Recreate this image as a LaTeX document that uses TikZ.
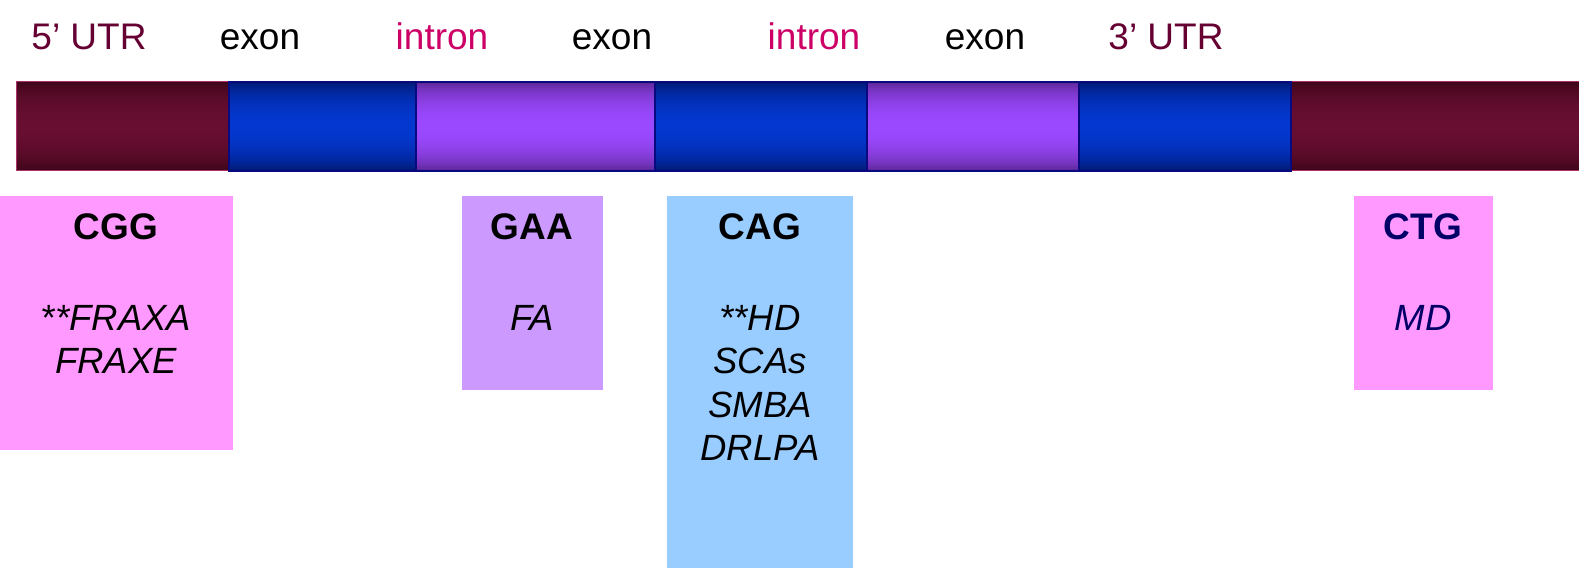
\documentclass[tikz,border=0pt]{standalone}
\usepackage{fontspec}
\setmainfont{Liberation Sans}
\definecolor{utrtxt}{HTML}{660033}
\definecolor{introntxt}{HTML}{CC0066}
\definecolor{utrmid}{HTML}{680E31}
\definecolor{utrdark}{HTML}{380414}
\definecolor{utredge}{HTML}{B0306A}
\definecolor{exmid}{HTML}{0337CF}
\definecolor{exdark}{HTML}{001566}
\definecolor{exedge}{HTML}{0A0A80}
\definecolor{inmid}{HTML}{9B49FF}
\definecolor{indark}{HTML}{552288}
\definecolor{boxpink}{HTML}{FF99FF}
\definecolor{boxlav}{HTML}{CC99FF}
\definecolor{boxblue}{HTML}{99CCFF}
\definecolor{navy}{HTML}{000066}
\tikzset{
  toplabel/.style={font=\fontsize{37}{40}\selectfont, inner sep=0pt, anchor=base},
  titletxt/.style={font=\fontsize{37}{40}\selectfont\bfseries, inner sep=0pt, anchor=base},
  bodytxt/.style={font=\fontsize{36.5}{43.5}\selectfont\itshape, inner sep=0pt, anchor=north, align=center},
}
% \gradseg{x1}{x2}{midcolor}{darkcolor}{edgecolor}{edgewidth}
\newcommand{\gradseg}[6]{%
  \foreach \i in {0,...,44}{%
    \pgfmathsetmacro{\tt}{(\i+0.5)/45}%
    \pgfmathsetmacro{\ff}{100*(sin(180*\tt))^0.6}%
    \fill[#3!\ff!#4] (#1,{397+89*\i/45}) rectangle (#2,{397+89*(\i+1)/45+0.3});%
  }%
  \draw[#5, line width=#6] (#1,397) rectangle (#2,486);%
}
\begin{document}
\begin{tikzpicture}[x=1pt,y=1pt]
\useasboundingbox (0,0) rectangle (1579,568);
% bar segments
\gradseg{16}{229}{utrmid}{utrdark}{utredge}{1pt}
\gradseg{1291}{1579}{utrmid}{utrdark}{utredge}{1pt}
\gradseg{416}{655}{inmid}{indark}{exedge}{1.5pt}
\gradseg{867}{1079}{inmid}{indark}{exedge}{1.5pt}
\gradseg{229}{416}{exmid}{exdark}{exedge}{1.5pt}
\gradseg{655}{867}{exmid}{exdark}{exedge}{1.5pt}
\gradseg{1079}{1291}{exmid}{exdark}{exedge}{1.5pt}
% top labels
\node[toplabel, text=utrtxt] (l1) at (89,518) {5’ UTR};
\node[toplabel] (l2) at (260,518) {exon};
\node[toplabel, text=introntxt] (l3) at (442,518) {intron};
\node[toplabel] (l4) at (612,518) {exon};
\node[toplabel, text=introntxt] (l5) at (814,518) {intron};
\node[toplabel] (l6) at (985,518) {exon};
\node[toplabel, text=utrtxt] (l7) at (1166,518) {3’ UTR};
% boxes
\fill[boxpink] (0,118) rectangle (233,372);
\fill[boxlav] (462,178) rectangle (603,372);
\fill[boxblue] (667,0) rectangle (853,372);
\fill[boxpink] (1354,178) rectangle (1493,372);
% box texts
\node[titletxt] (t1) at (116,328) {CGG};
\node[bodytxt] (b1) at (116,263) {**FRAXA\\FRAXE};
\node[titletxt] (t2) at (532,328) {GAA};
\node[bodytxt] (b2) at (532,263) {FA};
\node[titletxt] (t3) at (760,328) {CAG};
\node[bodytxt] (b3) at (760,263) {**HD\\SCAs\\SMBA\\DRLPA};
\node[titletxt, text=navy] (t4) at (1423,328) {CTG};
\node[bodytxt, text=navy] (b4) at (1423,263) {MD};
\end{tikzpicture}
\end{document}
